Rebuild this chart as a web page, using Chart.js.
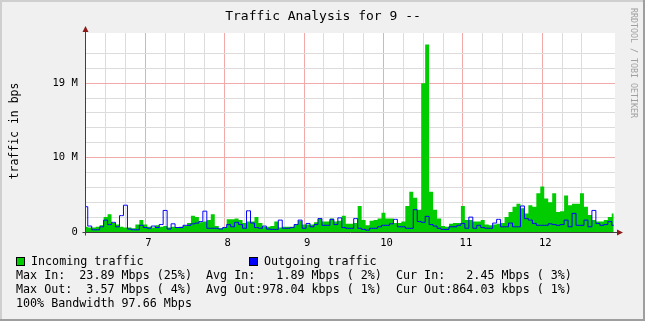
<!DOCTYPE html>
<html><head><meta charset="utf-8">
<script src="https://cdn.jsdelivr.net/npm/chart.js@4/dist/chart.umd.min.js"></script>
<style>html,body{margin:0;padding:0;background:#f0f0f0;overflow:hidden}canvas{display:block}</style>
</head><body>
<canvas id="c" width="645" height="321"></canvas>
<script>
// ---- data ----
const TITLE = 'Traffic Analysis for 9 --';
const Y_TITLE = 'traffic in bps';
const SIDE_TEXT = 'RRDTOOL / TOBI OETIKER';
const START = 6.25;          // first sample (day)
const STEP = 0.05;           // sample spacing (day)
const X_MIN = 6.25, X_MAX = 12.916;
const X_TICK_VALUES = [7, 8, 9, 10, 11, 12];
const X_TICK_TEXT = ['7', '8', '9', '10', '11', '12'];
const Y_MAX = 26.75;
const Y_TICK_VALUES = [0, 10, 20];
const Y_TICK_TEXT = ['0', '10 M', '19 M'];
const SERIES_NAMES = ['Incoming traffic', 'Outgoing traffic'];
const INCOMING = [
 0.7,0.6,0.6,0.7,0.9,2.0,2.4,1.2,1.0,0.7,
 0.6,0.6,0.5,1.0,1.6,1.0,0.7,0.6,0.9,0.7,
 0.8,0.6,0.7,0.6,0.7,0.8,1.2,2.2,2.0,1.3,
 1.4,1.6,2.4,0.8,0.5,0.6,1.7,1.7,1.8,1.6,
 1.2,1.4,1.4,2.0,1.2,0.7,0.7,0.8,1.4,0.6,
 0.7,0.7,0.7,1.0,1.5,1.0,1.0,1.0,1.3,1.8,
 1.4,1.4,1.8,1.4,1.5,2.2,1.1,1.1,1.2,3.5,
 1.6,0.9,1.5,1.6,1.8,2.6,1.8,1.8,1.2,1.2,
 1.4,3.5,5.4,4.6,3.0,20.0,25.2,5.4,3.0,1.8,
 0.8,0.7,1.1,1.2,1.2,3.5,1.6,1.6,1.4,1.4,
 1.6,1.0,0.9,1.0,1.1,1.2,2.0,2.7,3.4,3.8,
 3.2,2.5,3.6,3.4,5.2,6.1,4.5,4.0,5.2,2.7,
 2.8,4.9,3.6,3.8,3.8,5.2,3.4,2.3,1.6,1.4,
 1.4,1.6,2.0,2.5
];
const OUTGOING = [
 3.4,0.8,0.3,0.3,0.7,1.6,1.0,1.3,0.7,2.2,
 3.6,0.4,0.3,0.3,0.9,0.6,0.5,0.8,0.6,1.0,
 2.9,0.4,1.1,0.6,0.6,0.9,0.9,1.1,1.2,1.4,
 2.8,0.5,0.5,0.5,0.4,0.6,1.0,0.7,1.3,1.0,
 0.5,2.85,1.2,0.6,0.5,0.8,0.4,0.35,0.35,1.6,
 0.5,0.5,0.6,1.0,1.6,0.5,1.15,0.7,1.0,1.8,
 0.9,0.9,1.7,1.0,1.9,0.6,0.5,0.5,1.8,0.5,
 0.35,0.25,0.5,0.5,0.7,0.9,0.9,1.1,1.7,0.7,
 0.7,0.5,0.5,3.0,1.4,1.3,2.1,1.0,0.8,0.5,
 0.35,0.35,0.7,0.7,0.9,1.15,0.5,2.0,0.5,0.9,
 0.6,0.5,0.5,1.2,1.7,0.7,0.7,1.2,0.7,0.7,
 3.5,1.8,1.6,1.15,0.9,0.9,0.9,1.1,1.0,0.9,
 1.0,1.6,0.7,2.5,0.9,0.9,1.6,0.7,2.9,1.15,
 0.9,1.0,1.4,0.9
];
const STATS_LINES = [
 'Max In:  23.89 Mbps (25%)  Avg In:   1.89 Mbps ( 2%)  Cur In:   2.45 Mbps ( 3%)',
 'Max Out:  3.57 Mbps ( 4%)  Avg Out:978.04 kbps ( 1%)  Cur Out:864.03 kbps ( 1%)',
 '100% Bandwidth 97.66 Mbps'
];

// ---- styles ----
const GREEN = '#00cc00', BLUE = '#0000ff';
const MAJOR = '#f2a9a9', MINOR = '#dcdcdc', NONE = 'rgba(0,0,0,0)';
const MONO = '"DejaVu Sans Mono", "Liberation Mono", monospace';

const toPts = arr => arr.map((v, i) => ({x: START + i * STEP, y: v}));

const rrdPlugin = {
  id: 'rrd',
  beforeDraw(chart) {
    const c = chart.ctx, a = chart.chartArea, W = chart.width, H = chart.height;
    c.save();
    c.fillStyle = '#f0f0f0'; c.fillRect(0, 0, W, H);
    c.fillStyle = '#cfcfcf'; c.fillRect(0, 0, W, 2); c.fillRect(0, 0, 2, H);
    c.fillStyle = '#9e9e9e'; c.fillRect(0, H - 2, W, 2); c.fillRect(W - 2, 0, 2, H);
    c.fillStyle = '#ffffff'; c.fillRect(a.left, a.top, a.right - a.left, a.bottom - a.top);
    c.restore();
  },
  afterDraw(chart) {
    const c = chart.ctx, a = chart.chartArea;
    c.save();
    // axes
    const ax = Math.round(a.left - 0.5) + 0.5, ay = Math.round(a.bottom) + 0.5;
    c.strokeStyle = '#404040'; c.lineWidth = 1;
    c.beginPath(); c.moveTo(ax, ay + 3); c.lineTo(ax, a.top - 3); c.stroke();
    c.beginPath(); c.moveTo(ax - 3, ay); c.lineTo(a.right + 3, ay); c.stroke();
    c.fillStyle = '#8b1a1a';
    c.beginPath(); c.moveTo(ax, a.top - 7); c.lineTo(ax - 3, a.top - 1); c.lineTo(ax + 3, a.top - 1); c.closePath(); c.fill();
    c.beginPath(); c.moveTo(a.right + 8, ay); c.lineTo(a.right + 2, ay - 3); c.lineTo(a.right + 2, ay + 3); c.closePath(); c.fill();
    // title
    c.fillStyle = '#000';
    c.font = '13px ' + MONO; c.textAlign = 'center'; c.textBaseline = 'alphabetic';
    c.fillText(TITLE, 323, 20);
    // y title
    c.save(); c.translate(15, 131); c.rotate(-Math.PI / 2);
    c.font = '11.5px ' + MONO; c.textAlign = 'center'; c.textBaseline = 'middle';
    c.fillText(Y_TITLE, 0, 0); c.restore();
    // side text
    c.save(); c.translate(633, 8); c.rotate(Math.PI / 2);
    c.font = '8.3px ' + MONO; c.textAlign = 'left'; c.textBaseline = 'middle'; c.fillStyle = '#a0a0a0';
    c.fillText(SIDE_TEXT, 0, 0); c.restore();
    // legend
    c.font = '11.7px ' + MONO; c.textAlign = 'left'; c.textBaseline = 'alphabetic';
    const sw = [[16, GREEN, 31], [249, BLUE, 264]];
    sw.forEach(([x, col, tx], k) => {
      c.fillStyle = col; c.fillRect(x, 257, 9, 9);
      c.strokeStyle = '#000'; c.strokeRect(x + 0.5, 257.5, 8, 8);
      c.fillStyle = '#000'; c.fillText(SERIES_NAMES[k], tx, 265);
    });
    const bl = [278.7, 292.7, 306.5];
    STATS_LINES.forEach((t, k) => c.fillText(t, 16, bl[k]));
    c.restore();
  }
};

new Chart(document.getElementById('c'), {
  type: 'line',
  data: {
    datasets: [
      {label: SERIES_NAMES[1], data: toPts(OUTGOING), borderColor: BLUE, borderWidth: 1,
       backgroundColor: BLUE, fill: false, stepped: 'middle', pointRadius: 0, order: 0},
      {label: SERIES_NAMES[0], data: toPts(INCOMING), borderColor: GREEN, borderWidth: 0,
       backgroundColor: GREEN, fill: 'origin', stepped: 'middle', pointRadius: 0, order: 1}
    ]
  },
  options: {
    responsive: false, animation: false, devicePixelRatio: 1,
    layout: {padding: {top: 33, right: 30, left: 0, bottom: 0}},
    plugins: {legend: {display: false}, title: {display: false}, tooltip: {enabled: false}},
    scales: {
      x: {
        type: 'linear', min: X_MIN, max: X_MAX,
        border: {display: false},
        grid: {drawTicks: false, lineWidth: 1,
          color: ctx => { const v = ctx.tick ? ctx.tick.value : NaN;
            if (!(v > X_MIN + 1e-6 && v < X_MAX - 1e-6)) return NONE;
            return Number.isInteger(v) ? MAJOR : MINOR; }},
        ticks: {stepSize: 0.25, autoSkip: false, maxRotation: 0, padding: 5, labelOffset: 3,
          color: '#000', font: {family: MONO, size: 10.5},
          callback: v => { const k = X_TICK_VALUES.indexOf(v); return k >= 0 ? X_TICK_TEXT[k] : ''; }},
        afterFit: s => { s.height = 89; }
      },
      y: {
        type: 'linear', min: 0, max: Y_MAX,
        border: {display: false},
        grid: {drawTicks: false, lineWidth: 1,
          color: ctx => { const v = ctx.tick ? ctx.tick.value : NaN;
            if (!(v > 1e-6 && v < Y_MAX - 1e-6)) return NONE;
            return (v % 10 === 0) ? MAJOR : MINOR; }},
        ticks: {stepSize: 2, autoSkip: false, padding: 8,
          color: '#000', font: {family: MONO, size: 10.5},
          callback: v => { const k = Y_TICK_VALUES.indexOf(v); return k >= 0 ? Y_TICK_TEXT[k] : ''; }},
        afterFit: s => { s.width = 85.75; }
      }
    }
  },
  plugins: [rrdPlugin]
});
</script>
</body></html>
